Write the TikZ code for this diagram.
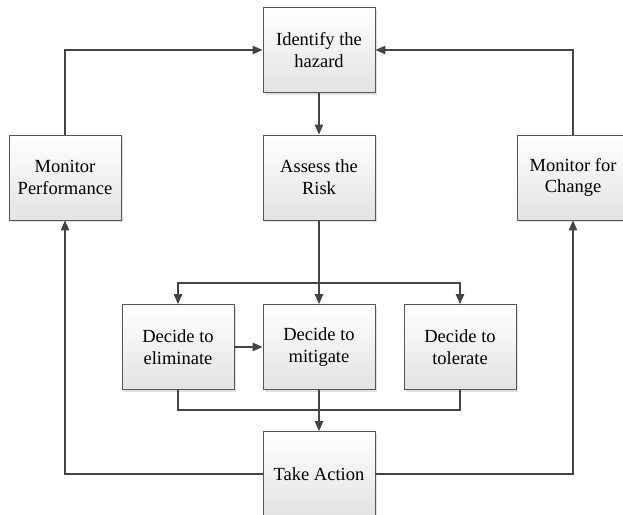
\documentclass[tikz,border=0pt]{standalone}
\usepackage{fontspec}
\setmainfont{Liberation Serif}
\usetikzlibrary{arrows.meta,shadows}
\definecolor{edge}{HTML}{555555}
\definecolor{wire}{HTML}{444444}
\tikzset{
  stepbox/.style={draw=edge, line width=0.9pt, top color=white, bottom color=black!11,
    minimum width=112pt, minimum height=85pt, inner sep=2pt, align=center,
    font=\fontsize{18.5}{21.7}\selectfont,
    drop shadow={shadow xshift=2pt, shadow yshift=-2pt, fill=black!25, opacity=0.5}},
  link/.style={draw=wire, line width=1.1pt},
  flow/.style={link, -{Triangle[length=10pt, width=8.5pt]}},
}
\begin{document}
\begin{tikzpicture}[x=1pt, y=-1pt]
  \useasboundingbox (0,0) rectangle (623,514);
  % process boxes
  \node[stepbox] (identify) at (319,50)    {Identify the\\hazard};
  \node[stepbox] (assess)   at (319,177.5) {Assess the\\Risk};
  \node[stepbox] (monperf)  at (65,177.5)  {Monitor\\Performance};
  \node[stepbox] (monchg)   at (573,177.5) {Monitor for\\Change};
  \node[stepbox] (elim)     at (178,347)   {Decide to\\eliminate};
  \node[stepbox] (mitig)    at (319,347)   {Decide to\\mitigate};
  \node[stepbox] (toler)    at (460,347)   {Decide to\\tolerate};
  \node[stepbox] (action)   at (319,474)   {Take Action};
  % junctions
  \coordinate (split) at (319,283);
  \coordinate (merge) at (319,410);
  % connectors
  \draw[flow] (identify) -- (assess);
  \draw[flow] (assess) -- (mitig);
  \draw[flow] (split) -| (elim);
  \draw[flow] (split) -| (toler);
  \draw[flow] (elim) -- (mitig);
  \draw[link] (elim.south) |- (merge);
  \draw[link] (toler.south) |- (merge);
  \draw[flow] (mitig) -- (action);
  \draw[flow] (action.west) -| (monperf.south);
  \draw[flow] (action.east) -| (monchg.south);
  \draw[flow] (monperf.north) |- (identify.west);
  \draw[flow] (monchg.north) |- (identify.east);
\end{tikzpicture}
\end{document}
